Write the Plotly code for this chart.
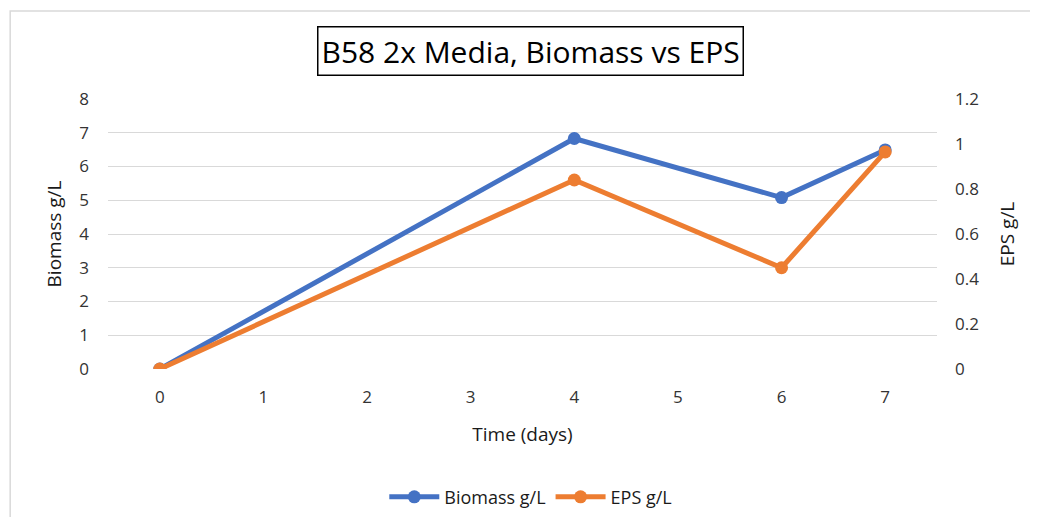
import plotly.graph_objects as go

# data
days = [0, 4, 6, 7]
biomass = [0, 6.83, 5.08, 6.49]
eps = [0, 0.84, 0.45, 0.965]
x_ticks = [0, 1, 2, 3, 4, 5, 6, 7]

blue = "#4472C4"
orange = "#ED7D31"
font_family = "Open Sans, Liberation Sans, sans-serif"
label_color = "#333333"
title_color = "#1a1a1a"

fig = go.Figure()
fig.add_trace(go.Scatter(
    x=days, y=biomass, name="Biomass g/L", mode="lines+markers",
    line=dict(color=blue, width=5), marker=dict(size=13, color=blue),
))
fig.add_trace(go.Scatter(
    x=days, y=eps, name="EPS g/L", mode="lines+markers", yaxis="y2",
    line=dict(color=orange, width=5), marker=dict(size=13, color=orange),
))

# page body has an 8px margin, so the figure is sized/offset to fit the window
fig.update_layout(
    width=1022, height=509,
    margin=dict(l=100, r=93, t=91, b=148, autoexpand=False),
    paper_bgcolor="white", plot_bgcolor="white",
    font=dict(family=font_family, color=label_color, size=17),
    showlegend=True,
    legend=dict(orientation="h", x=0.51, xanchor="center", y=0.039, yref="container",
                yanchor="middle", font=dict(size=18, color=title_color), itemwidth=50),
    xaxis=dict(range=[-0.5, 7.5], tickvals=x_ticks, showgrid=False, zeroline=False,
               showline=False, ticks="", ticklabelstandoff=16,
               title=dict(text="Time (days)", font=dict(size=19, color=title_color), standoff=20)),
    yaxis=dict(range=[0, 8], dtick=1, gridcolor="#D9D9D9", gridwidth=1, zeroline=False,
               showline=False, ticks="", ticklabelstandoff=18,
               title=dict(text="Biomass g/L", font=dict(size=19, color=title_color), standoff=12)),
    yaxis2=dict(range=[0, 1.2], dtick=0.2, overlaying="y", side="right", showgrid=False,
                zeroline=False, showline=False, ticks="", ticklabelstandoff=17,
                title=dict(text="EPS g/L", font=dict(size=19, color=title_color), standoff=22)),
    annotations=[dict(
        text="B58 2x Media, Biomass vs EPS", xref="paper", yref="paper",
        x=0.51, y=1.178, xanchor="center", yanchor="middle", showarrow=False,
        font=dict(size=30, color="black", family=font_family),
        bordercolor="black", borderwidth=1.5, borderpad=3, bgcolor="white",
    )],
    shapes=[dict(type="rect", xref="paper", yref="paper",
                 x0=-0.118, x1=1.3, y0=-0.8, y1=1.326,
                 line=dict(color="#D9D9D9", width=1.5))],
)

fig.write_html("out.html")
